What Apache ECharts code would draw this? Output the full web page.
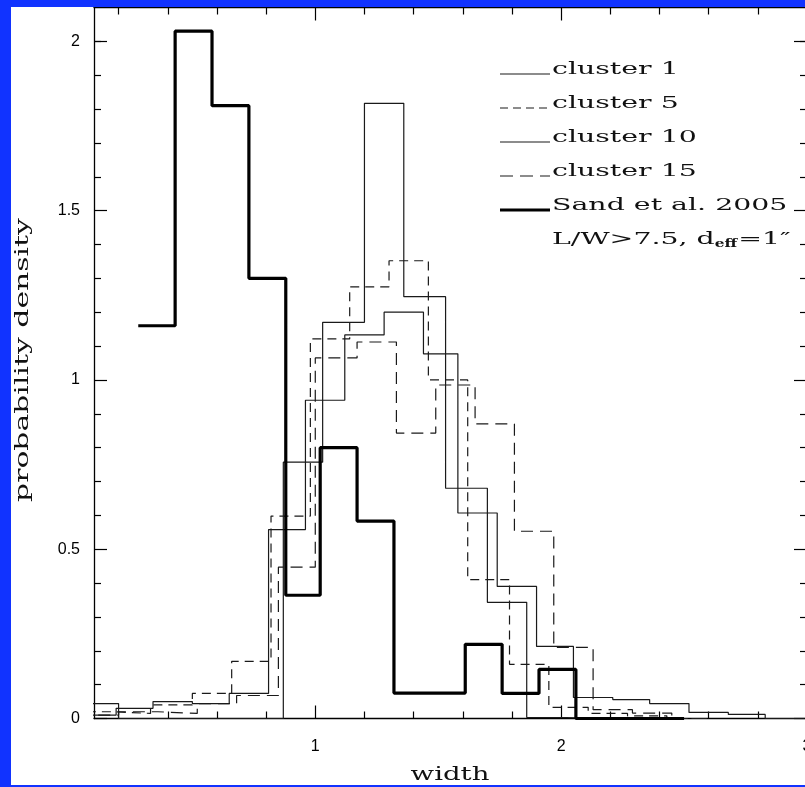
<!DOCTYPE html>
<html>
<head>
<meta charset="utf-8">
<script src="https://cdn.jsdelivr.net/npm/echarts@6/dist/echarts.min.js"></script>
<style>
  html, body { margin: 0; padding: 0; background: #fff; }
  #main { width: 805px; height: 787px; }
</style>
</head>
<body>
<div id="main"></div>
<script>
const myChart = echarts.init(document.getElementById('main'))

// histogram bin edges (width) and heights (probability density)
const edges1 = [0.04, 0.20, 0.37, 0.54, 0.70, 0.87, 1.03, 1.20, 1.36, 1.53, 1.70, 1.86, 2.02, 2.19]
const dens1 = [0.044, 0, 0, 0, 0, 0.757, 1.17, 1.817, 1.246, 0.68, 0.343, 0.003, 0]

const edges5 = [0.01, 0.18, 0.33, 0.50, 0.66, 0.82, 0.98, 1.14, 1.30, 1.46, 1.62, 1.79, 1.95, 2.11, 2.27, 2.43, 2.59]
const dens5 = [0.02, 0.015, 0.04, 0.074, 0.169, 0.598, 1.121, 1.275, 1.352, 1.0, 0.41, 0.16, 0.033, 0.015, 0.008, 0]

const edges10 = [0.03, 0.19, 0.34, 0.50, 0.65, 0.81, 0.96, 1.12, 1.28, 1.44, 1.58, 1.74, 1.90, 2.05, 2.21, 2.36, 2.52, 2.68, 2.83, 2.99]
const dens10 = [0.01, 0.03, 0.05, 0.044, 0.074, 0.558, 0.94, 1.133, 1.20, 1.077, 0.607, 0.39, 0.213, 0.062, 0.056, 0.044, 0.018, 0.012, 0]

const edges15 = [0.04, 0.20, 0.36, 0.52, 0.68, 0.85, 1.00, 1.17, 1.33, 1.49, 1.65, 1.81, 1.97, 2.13, 2.29, 2.45, 2.61]
const dens15 = [0.01, 0.02, 0.015, 0.044, 0.068, 0.447, 1.065, 1.112, 0.843, 0.985, 0.87, 0.553, 0.21, 0.026, 0.016, 0]

const edgesSand = [0.28, 0.43, 0.58, 0.73, 0.88, 1.02, 1.17, 1.32, 1.47, 1.61, 1.76, 1.91, 2.06, 2.21, 2.35, 2.50]
const densSand = [1.16, 2.03, 1.81, 1.30, 0.364, 0.80, 0.583, 0.075, 0.075, 0.219, 0.074, 0.145, 0, 0, 0]

// axes
const xRange = [0.1, 3]
const yRange = [0, 2.1]
const xTickLabels = [1, 2, 3]
const xMinorTicks = [0.2, 0.4, 0.6, 0.8, 1.2, 1.4, 1.6, 1.8, 2.2, 2.4, 2.6, 2.8]
const yTickLabels = [0, 0.5, 1, 1.5, 2]
const yMinorTicks = [0.1, 0.2, 0.3, 0.4, 0.6, 0.7, 0.8, 0.9, 1.1, 1.2, 1.3, 1.4, 1.6, 1.7, 1.8, 1.9, 2.0]

const legendNames = ['cluster 1', 'cluster 5', 'cluster 10', 'cluster 15', 'Sand et al. 2005']

const BLUE = '#1133ff'
const SERIF = 'DejaVu Serif'

// turn edges + heights into step points
function steps(edges, dens) {
  const pts = dens.map((v, i) => [edges[i], v])
  pts.push([edges[edges.length - 1], dens[dens.length - 1]])
  return pts
}

function axis(range, position, ticks, len, showLine, label) {
  return {
    type: 'value',
    position: position,
    min: range[0],
    max: range[1],
    axisLine: { show: showLine, onZero: false, lineStyle: { color: '#000', width: 1.3 } },
    axisTick: { show: true, inside: true, length: len, customValues: ticks, lineStyle: { color: '#000', width: 1.2 } },
    axisLabel: label ? Object.assign({
      show: true, color: '#000', fontFamily: 'Liberation Sans', fontSize: 16
    }, label) : { show: false },
    splitLine: { show: false }
  }
}

const styles = [
  { color: '#1a1a1a', width: 1.2, type: 'solid' },
  { color: '#1a1a1a', width: 1.2, type: [9, 6] },
  { color: '#1a1a1a', width: 1.2, type: 'solid' },
  { color: '#1a1a1a', width: 1.2, type: [12, 7] },
  { color: '#000', width: 3.2, type: 'solid' }
]
const seriesData = [
  steps(edges1, dens1),
  steps(edges5, dens5),
  steps(edges10, dens10),
  steps(edges15, dens15),
  steps(edgesSand, densSand)
]

// text measuring for the mixed-size legend line
const ctx = document.createElement('canvas').getContext('2d')
function tw(txt, font) { ctx.font = font; return ctx.measureText(txt).width }

const LEG_X = 552, LEG_Y0 = 75, LEG_DY = 34, LEG_SX = 1.67, LEG_FS = 17
const graphic = []
legendNames.forEach((name, i) => {
  const base = LEG_Y0 + i * LEG_DY
  graphic.push({
    type: 'line', z: 50,
    shape: { x1: 500, y1: base - 1, x2: 550, y2: base - 1 },
    style: { stroke: styles[i].color, lineWidth: styles[i].width, lineDash: i === 1 ? [8, 5] : (i === 3 ? [13, 7] : null) }
  })
  graphic.push({
    type: 'text', z: 50, x: LEG_X, y: base - 5.5, scaleX: LEG_SX,
    style: { text: name, fontSize: LEG_FS, fontFamily: SERIF, fill: '#111', align: 'left', verticalAlign: 'middle' }
  })
})
// L/W>7.5, d_eff=1"
const base6 = LEG_Y0 + 5 * LEG_DY
const part1 = 'L/W>7.5, d', part2 = 'eff', part3 = '=1\u2033'
const w1 = tw(part1, LEG_FS + 'px "' + SERIF + '"') * LEG_SX
const w2 = tw(part2, 'bold 11px "' + SERIF + '"') * 1.4
graphic.push({
  type: 'text', z: 50, x: LEG_X, y: base6 - 5.5, scaleX: LEG_SX,
  style: { text: part1, fontSize: LEG_FS, fontFamily: SERIF, fill: '#111', align: 'left', verticalAlign: 'middle' }
})
graphic.push({
  type: 'text', z: 50, x: LEG_X + w1, y: base6 - 1, scaleX: 1.4,
  style: { text: part2, fontSize: 11, fontWeight: 'bold', fontFamily: SERIF, fill: '#111', align: 'left', verticalAlign: 'middle' }
})
graphic.push({
  type: 'text', z: 50, x: LEG_X + w1 + w2 + 1, y: base6 - 5.5, scaleX: LEG_SX,
  style: { text: part3, fontSize: LEG_FS, fontFamily: SERIF, fill: '#111', align: 'left', verticalAlign: 'middle' }
})

// axis titles
graphic.push({
  type: 'text', z: 50, x: 23, y: 360, rotation: Math.PI / 2, scaleX: 1.57,
  style: { text: 'probability density', fontSize: 19, fontFamily: SERIF, fill: '#111', align: 'center', verticalAlign: 'middle' }
})
graphic.push({
  type: 'text', z: 50, x: 450, y: 775, scaleX: 1.45,
  style: { text: 'width', fontSize: 19, fontFamily: SERIF, fill: '#111', align: 'center', verticalAlign: 'middle' }
})

// blue frame around the picture
graphic.push({ type: 'rect', z: 100, shape: { x: 0, y: 0, width: 11, height: 787 }, style: { fill: BLUE } })
graphic.push({ type: 'rect', z: 100, shape: { x: 0, y: 0, width: 805, height: 7 }, style: { fill: BLUE } })
graphic.push({ type: 'rect', z: 100, shape: { x: 0, y: 785, width: 805, height: 2 }, style: { fill: BLUE } })

var option = {
  backgroundColor: '#fff',
  animation: false,
  grid: { left: 94, top: 7.5, width: 713, height: 711, containLabel: false, outerBoundsMode: 'none' },
  xAxis: [
    axis(xRange, 'bottom', xTickLabels, 13, true, { customValues: xTickLabels, margin: 20 }),
    axis(xRange, 'bottom', xMinorTicks, 7, false, null),
    axis(xRange, 'top', xTickLabels, 13, true, null),
    axis(xRange, 'top', xMinorTicks, 7, false, null)
  ],
  yAxis: [
    axis(yRange, 'left', yTickLabels, 13, true, { customValues: yTickLabels, margin: 14 }),
    axis(yRange, 'left', yMinorTicks, 7, false, null),
    axis(yRange, 'right', yTickLabels, 13, true, null),
    axis(yRange, 'right', yMinorTicks, 7, false, null)
  ],
  graphic: graphic,
  series: seriesData.map((d, i) => ({
    name: legendNames[i],
    type: 'line',
    step: 'end',
    xAxisIndex: 0,
    yAxisIndex: 0,
    symbol: 'none',
    z: i === 4 ? 4 : 3,
    lineStyle: styles[i],
    data: d
  }))
}

myChart.setOption(option)
</script>
</body>
</html>
